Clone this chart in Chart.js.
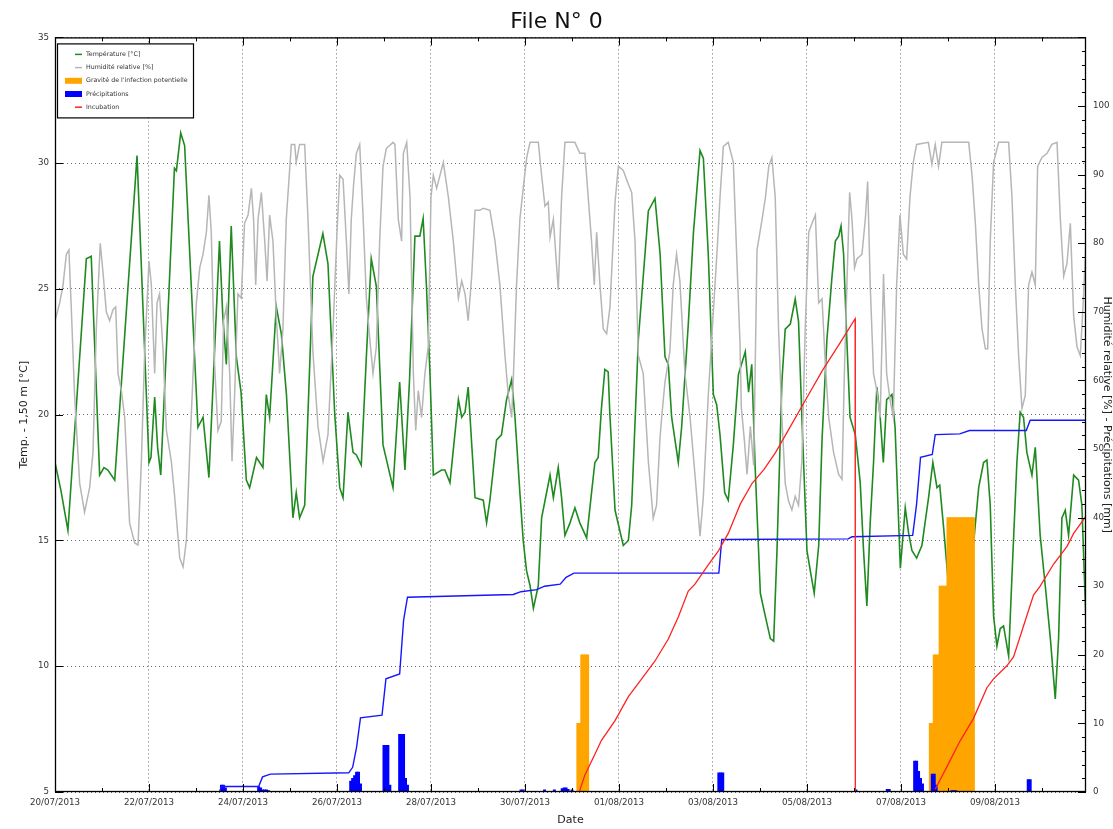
<!DOCTYPE html>
<html><head><meta charset="utf-8">
<script src="https://cdn.jsdelivr.net/npm/chart.js@4.4.1/dist/chart.umd.min.js"></script>
<style>html,body{margin:0;padding:0;background:#fff}canvas{display:block}</style>
</head><body>
<canvas id="c" width="1113" height="829"></canvas>
<script>
// ---- x axis (hours since 20/07/2013 00:00) ----
const tickHours = [0,48,96,144,192,240,288,336,384,432,480];
const tickLabels = ['20/07/2013','22/07/2013','24/07/2013','26/07/2013','28/07/2013','30/07/2013','01/08/2013','03/08/2013','05/08/2013','07/08/2013','09/08/2013'];
const tempTicks = [5,10,15,20,25,30,35];
const rightTicks = [0,10,20,30,40,50,60,70,80,90,100];

// ---- Température [°C] ----
const tempHours = [0,3,6.6,16,18.5,22.8,25,27,30.5,41.9,48,49,50.9,52.4,54,61,62,64.2,66.2,73,75.6,78.6,84,85.7,87.5,90,92.6,95,97.7,99.4,102.9,106.2,107.9,109.6,113,115.6,118.2,121.5,123.2,124.9,127.5,131.7,136.8,139.4,142.8,145.4,147.1,149.6,152.2,153.9,156.4,159,161.5,164.1,167.5,172.6,176,178.7,181,183.8,186.3,188,189.7,191.5,193.2,197.4,199.1,201.7,206,207.7,209.4,211,214.5,218.7,220.4,222.1,225.5,228,230.6,233.2,234.9,237.4,239.1,240.8,242.6,244.3,246.8,248.5,252.8,254.5,257,258.7,260.4,263,265.5,268,271.5,274,275.7,277.4,279,280.8,282.5,283.3,286,290.2,292.8,294.5,297.9,303,306.4,309,311.5,313.2,314.9,318.3,320,323.4,326,329.4,331.1,333.6,336.2,337.9,339.6,342,343.8,346.4,349,352.5,354.2,355.8,357.6,360.2,362.7,365.3,367,368.7,371.2,372.9,375.5,378,379.7,381.4,384,385.7,387.7,390,391.7,394.2,396.8,398.5,400.2,401.4,402.7,404.4,406,408.7,411.2,412.9,414.6,416.3,418,419.7,421.4,423,424.7,427.4,429,431.7,434.2,435.9,437.6,440,442.7,446.1,448.3,450.4,451.8,453.8,456.3,469,471.7,474.2,475.9,477.6,479.3,481,482.7,484.4,487,488.7,491.2,492.9,494.6,496.3,498.9,500.6,503.1,505.7,508.3,510.8,512.5,514.2,515.9,517.6,520.2,522.7,524.4,526.5];
const tempValues = [18.1,17.0,15.4,26.2,26.3,17.6,17.9,17.8,17.4,30.3,18.1,18.3,20.7,18.7,17.6,29.8,29.7,31.2,30.7,19.5,19.9,17.5,26.9,23.9,22.0,27.5,22.3,20.9,17.4,17.1,18.3,17.9,20.8,19.9,24.3,23.2,20.8,15.9,16.9,15.9,16.4,25.5,27.2,26.0,20.1,17.1,16.7,20.1,18.5,18.4,18.0,22.3,26.2,25.1,18.8,17.1,21.3,17.8,21.3,27.1,27.1,27.8,25.1,21.6,17.6,17.8,17.8,17.3,20.6,19.9,20.1,21.1,16.7,16.6,15.7,16.6,19.0,19.2,20.6,21.4,19.9,16.9,15.0,13.8,13.2,12.3,13.2,15.9,17.6,16.7,17.9,16.7,15.2,15.7,16.3,15.7,15.1,16.9,18.1,18.3,20.2,21.8,21.7,20.1,16.2,14.8,15.0,16.4,23.0,28.1,28.6,26.4,22.3,22.0,19.9,18.1,19.5,23.6,27.2,30.5,30.2,26.4,20.8,20.4,19.2,16.9,16.6,18.8,21.6,22.5,20.9,22.0,17.8,12.9,12.0,11.1,11.0,14.6,21.3,23.4,23.6,24.6,23.7,19.9,14.6,13.8,12.9,14.8,19.0,23.0,25.5,26.9,27.1,27.5,26.4,22.9,19.9,19.2,17.3,14.6,12.4,15.7,18.1,21.1,19.9,18.1,20.6,20.8,19.5,13.9,16.3,15.3,14.6,14.3,14.8,16.7,18.1,17.1,17.2,15.5,13.2,14.8,17.1,18.1,18.2,16.4,12.0,10.8,11.5,11.6,10.4,13.6,18.1,20.1,19.9,18.5,17.6,18.7,15.2,13.2,11.1,8.7,11.1,15.9,16.2,15.2,17.6,17.4,16.4,11.7];

// ---- Humidité relative [%] ----
const humHours = [0,2.4,4.1,5.8,7.1,8.3,10,12.6,15.1,17.7,19.4,21.1,23.1,24.5,26.2,27.9,29.6,31,32.2,33.9,35.6,38.1,40.7,42.4,44.1,45.8,48,49.2,50.9,52.1,53.4,55.2,56.9,59.4,61.1,63.7,65.4,67.1,68.8,70.5,72.2,73.9,75.6,77.3,78.6,79.8,81.5,83.2,84.9,86.1,87.5,89.2,90.4,91.8,93.4,95.1,96.8,98.6,100.3,101.4,102.5,103.7,105.4,107.1,108.3,109.6,111.3,113,114.7,116.4,118.1,120.7,122.4,123.2,124.9,127.5,129.2,131.7,134.3,136.9,139.4,142,144,145.4,147.1,148.8,150.1,151.3,152.5,153.9,155.6,157.3,159,160.7,162.4,164.1,165.8,167.5,169.2,172.6,173.6,175.3,177,177.9,179.6,181.3,183,184.2,185.5,187.2,188.9,190.6,192,193.2,194.9,198.3,200.9,203.4,206,207.7,209.4,211,212.8,214.5,217,218.7,222.1,224.7,227.2,229.8,231.5,233.2,234,235.7,237.4,239.1,240.9,242.6,246.8,248.5,250.2,251.9,252.8,254.5,257,258.7,260.4,265.5,268,270.6,272.3,274,275.4,276.6,278.3,280,281.7,283.4,286,287.7,290.2,292.8,294.5,296.2,297.9,300.4,303,305.5,307.2,308.9,309.8,311.5,314,315.7,317.4,319.1,321.7,324.3,326.8,329.4,331.1,333.6,336.2,338.4,339.6,341.3,343.8,346.4,348.1,349.8,350.5,352,353.4,355.1,356.8,358.5,361.1,362.8,364.5,366.1,367.8,369.5,371.2,372.9,374.6,376.3,378,379.7,381.4,383.1,384.9,386.6,388.3,390,391.7,393.4,395.1,397.6,400.2,401.9,403.1,404.4,405.8,407,408.3,409.5,412.1,413.8,415,416.3,418,419.7,421.4,423.1,424.7,426.4,428.1,429.8,431.5,433.2,434.9,436.6,438.3,440,446,447.8,449.5,451.2,452.9,466.6,468.3,470,471.7,473.4,475.1,476.3,477.6,479.3,481.9,487,488.7,490.4,492.1,493.8,495.5,497.2,498.9,500.6,501.8,504,506.6,509.1,511.7,513.4,515.1,516.8,518.5,520.2,521.9,523.6,525.3,526.5];
const humValues = [68.7,71.3,73.9,78.4,79.0,70.7,57.8,45.0,40.8,44.4,49.5,67.5,80.0,75.8,70.0,68.7,70.3,70.7,61.0,58.5,54.6,39.2,36.3,36.0,48.2,64.2,77.4,73.9,61.0,71.3,72.6,64.2,52.7,48.2,43.1,34.1,32.8,36.7,49.5,61.0,71.3,76.4,78.4,81.6,87.0,81.6,62.3,52.7,54.0,68.7,70.7,61.0,48.2,58.5,72.6,72.0,82.9,84.1,88.0,83.5,73.9,83.5,87.4,80.3,74.5,84.1,80.3,69.4,61.0,67.5,83.5,94.4,94.4,91.8,94.4,94.4,83.5,64.2,53.3,48.2,52.1,67.5,81.6,89.9,89.3,80.3,72.6,83.5,88.6,93.1,94.4,84.1,72.0,66.2,61.0,64.9,80.3,91.2,93.8,94.7,94.4,83.5,80.3,93.1,94.7,86.7,61.0,52.7,58.5,54.6,61.0,64.9,86.7,89.9,88.0,91.8,86.7,80.3,72.0,74.5,72.6,68.7,75.2,84.8,84.8,85.1,84.8,80.3,73.9,63.6,57.8,54.6,59.8,73.9,83.5,88.0,92.5,94.7,94.7,89.9,85.4,86.0,80.9,83.5,73.2,86.7,94.7,94.7,93.1,93.1,86.7,80.3,73.9,81.6,73.9,67.5,66.8,70.7,86.0,91.2,90.6,88.6,87.4,80.3,63.6,61.0,48.2,39.9,41.8,51.4,54.6,59.8,64.2,73.9,78.4,74.5,61.0,54.6,46.3,37.3,43.1,57.8,70.0,80.3,86.7,94.1,94.7,91.8,78.4,65.5,56.0,51.4,46.3,53.3,47.6,79.0,83.5,86.7,91.2,92.5,86.7,67.5,54.6,45.0,42.4,41.1,43.1,41.8,48.2,67.5,81.6,82.9,84.1,71.3,71.9,62.3,54.6,49.5,46.3,45.6,61.0,73.9,87.4,83.5,76.4,77.7,78.4,83.5,89.0,73.9,61.0,58.5,54.6,75.5,61.0,57.2,54.6,73.9,84.1,78.4,77.7,86.7,91.8,94.4,94.7,91.5,94.4,91.2,94.7,94.7,89.9,82.9,73.9,67.5,64.6,64.6,80.3,91.8,94.7,94.7,86.7,73.9,63.6,55.9,57.8,73.9,75.8,73.9,91.2,92.5,93.1,94.4,94.7,83.5,75.2,77.1,82.9,69.4,64.9,63.6,72.6,80.3];

// ---- Gravité de l'infection potentielle (hourly) ----
const gravHours = [267,268,269,270,271,272,447,448,449,450,451,452,453,454,455,456,457,458,459,460,461,462,463,464,465,466,467,468,469];
const gravValues = [10,10,20,20,20,20,10,10,20,20,20,30,30,30,30,40,40,40,40,40,40,40,40,40,40,40,40,40,40];

// ---- Précipitations [mm] (hourly) ----
const precHours = [85,86,87,104,105,106,107,108,109,151,152,153,154,155,156,168,169,170,171,176,177,178,179,180,238,239,250,255,259,260,261,262,264,339,340,341,409,425,426,439,440,441,442,443,448,449,450,458,459,460,497,498];
const precValues = [1.0,1.0,0.6,0.8,0.6,0.3,0.3,0.3,0.2,1.6,2.0,2.4,2.9,2.9,1.2,6.8,6.8,6.8,1.0,8.4,8.4,8.4,2.0,1.0,0.3,0.3,0.3,0.3,0.5,0.6,0.6,0.4,0.3,2.8,2.8,2.8,0.3,0.4,0.4,4.5,4.5,3.0,2.0,1.2,2.6,2.6,1.0,0.2,0.2,0.2,1.8,1.8];

// ---- Précipitations cumulées [mm] ----
const cumHours = [0,84,85,104,106,110,150,152,154,156,167,169,176,178,180,234,238,246,250,258,261,265,339,340.5,405,407,438,440,442,448,449.5,462,467,496,498,526.5];
const cumValues = [0,0,0.8,0.8,2.2,2.6,2.8,3.6,6.5,10.8,11.2,16.5,17.2,25,28.4,28.8,29.2,29.5,30.0,30.3,31.3,31.9,31.9,36.8,36.9,37.2,37.4,42,48.8,49.2,52.1,52.2,52.7,52.7,54.2,54.2];

// ---- Incubation ----
const incHours = [267.7,270.5,275.7,279,286,292.8,299.6,306.4,313.2,318.3,323.4,326.8,333.6,338.7,343.8,350,356,362,368,375,384,392,401,408.6,408.7,409,449.4,449.5,455.5,462.3,469,475.9,479.3,486.1,489.5,494.6,499.7,503.1,509.9,516.8,520.2,526.5];
const incValues = [0,2.4,5.5,7.5,10.4,13.9,16.5,19.1,22.3,25.5,29.3,30.3,33.1,35.1,37.7,42,45,47,49.5,53,57.5,61.5,65.5,69,0,null,null,0.4,3.7,7.5,10.7,15.2,16.5,18.4,19.7,24.2,28.7,30.0,33.2,35.8,37.7,40.2];

const pts = (xs, ys) => xs.map((x, i) => ({x: x, y: ys[i]}));
const FONT = 'DejaVu Sans';
Chart.defaults.font.family = FONT;

const decor = {
  id: 'decor',
  afterDatasetsDraw(chart) {
    const {ctx, chartArea: a, scales} = chart;
    const ln = (x1, y1, x2, y2) => { ctx.beginPath(); ctx.moveTo(x1, y1); ctx.lineTo(x2, y2); ctx.stroke(); };
    ctx.save();
    ctx.strokeStyle = '#000'; ctx.lineWidth = 1;
    const xs = scales.x;
    for (let h = 0; h <= xs.max; h += 24) {
      const px = Math.round(xs.getPixelForValue(h)) + 0.5;
      const len = tickHours.includes(h) ? 8 : 4;
      ln(px, a.bottom, px, a.bottom - len);
      ln(px, a.top, px, a.top + len);
    }
    tempTicks.forEach(v => { const py = Math.round(scales.y.getPixelForValue(v)) + 0.5; ln(a.left, py, a.left + 8, py); });
    for (let v = 0; v <= scales.y2.max; v += 2) {
      const py = Math.round(scales.y2.getPixelForValue(v)) + 0.5;
      ln(a.right, py, a.right - (v % 10 === 0 ? 8 : 4), py);
    }
    ctx.lineWidth = 1.3;
    ctx.strokeRect(a.left + 0.5, a.top + 0.5, a.right - a.left - 1, a.bottom - a.top - 1);
    ctx.restore();
  },
  afterDraw(chart) {
    const {ctx, chartArea: a} = chart;
    const items = chart.data.datasets.filter(d => !d.hideInLegend);
    const bx = a.left + 2, by = a.top + 6, bw = 136, bh = 74;
    ctx.save();
    ctx.fillStyle = '#fff'; ctx.fillRect(bx, by, bw, bh);
    ctx.strokeStyle = '#000'; ctx.lineWidth = 1.2; ctx.strokeRect(bx + 0.5, by + 0.5, bw, bh);
    ctx.font = '6.3px "' + FONT + '"'; ctx.textBaseline = 'middle'; ctx.textAlign = 'left';
    items.forEach((d, i) => {
      const cy = by + 11 + i * 13.2;
      if (d.type === 'bar') {
        ctx.fillStyle = d.backgroundColor; ctx.fillRect(bx + 8, cy - 3, 17, 6);
      } else {
        ctx.strokeStyle = d.borderColor; ctx.lineWidth = 1.5;
        ctx.beginPath(); ctx.moveTo(bx + 18, cy); ctx.lineTo(bx + 25, cy); ctx.stroke();
      }
      ctx.fillStyle = '#333'; ctx.fillText(d.label, bx + 29, cy);
    });
    ctx.restore();
  }
};

const gridDash = {display: false, dash: [1, 3]};

new Chart(document.getElementById('c'), {
  type: 'line',
  data: {
    datasets: [
      {type: 'line', label: 'Température [°C]', data: pts(tempHours, tempValues), yAxisID: 'y',
       borderColor: '#1f8a1f', borderWidth: 1.6, pointRadius: 0, tension: 0, order: 6},
      {type: 'line', label: 'Humidité relative [%]', data: pts(humHours, humValues), yAxisID: 'y2',
       borderColor: '#b6b6b6', borderWidth: 1.5, pointRadius: 0, tension: 0, order: 5},
      {type: 'bar', label: "Gravité de l'infection potentielle", data: pts(gravHours, gravValues), yAxisID: 'y2',
       backgroundColor: '#ffa500', borderWidth: 0, grouped: false, barThickness: 2.3, order: 4},
      {type: 'bar', label: 'Précipitations', data: pts(precHours, precValues), yAxisID: 'y2',
       backgroundColor: '#0000ff', borderWidth: 0, grouped: false, barThickness: 2.3, order: 3},
      {type: 'line', label: 'Incubation', data: pts(incHours, incValues), yAxisID: 'y2',
       borderColor: '#ff2222', borderWidth: 1.3, pointRadius: 0, tension: 0, spanGaps: false, order: 1},
      {type: 'line', label: 'Précipitations cumulées', hideInLegend: true, data: pts(cumHours, cumValues), yAxisID: 'y2',
       borderColor: '#1515ff', borderWidth: 1.4, pointRadius: 0, tension: 0, order: 2}
    ]
  },
  options: {
    responsive: false, animation: false, events: [],
    layout: {padding: 0},
    plugins: {
      legend: {display: false}, tooltip: {enabled: false},
      title: {display: true, text: 'File N° 0', color: '#111',
              font: {family: FONT, size: 22, weight: 'normal'}, padding: {top: 9, bottom: 2}}
    },
    scales: {
      x: {type: 'linear', min: 0, max: 526.5, offset: false,
          afterBuildTicks: s => { s.ticks = tickHours.map(v => ({value: v})); },
          afterFit: s => { s.height = 37; },
          ticks: {callback: (v, i) => tickLabels[i], font: {size: 8.7}, color: '#333', padding: 6, maxRotation: 0, autoSkip: false},
          grid: {drawTicks: false, offset: false, color: '#666', lineWidth: 1}, border: gridDash,
          title: {display: true, text: 'Date', color: '#222', font: {size: 11}, padding: {top: 0, bottom: 2.4}}},
      y: {position: 'left', min: 5, max: 35,
          afterBuildTicks: s => { s.ticks = tempTicks.map(v => ({value: v})); },
          afterFit: s => { s.width = 55; },
          ticks: {font: {size: 8.7}, color: '#333', padding: 6},
          grid: {drawTicks: false, color: '#666', lineWidth: 1}, border: gridDash,
          title: {display: true, text: 'Temp. - 1,50 m [°C]', color: '#222', font: {size: 11}, padding: {top: 18, bottom: 0}}},
      y2: {position: 'right', min: 0, max: 110,
           afterBuildTicks: s => { s.ticks = rightTicks.map(v => ({value: v})); },
           afterFit: s => { s.width = 27; },
           ticks: {font: {size: 8.7}, color: '#333', padding: 7},
           grid: {display: false, drawTicks: false}, border: {display: false},
           title: {display: true, text: 'Humidité relative [%] - Précipitations [mm]', color: '#222', font: {size: 11}, padding: {top: 0, bottom: 0}}}
    }
  },
  plugins: [decor]
});
</script>
</body></html>
